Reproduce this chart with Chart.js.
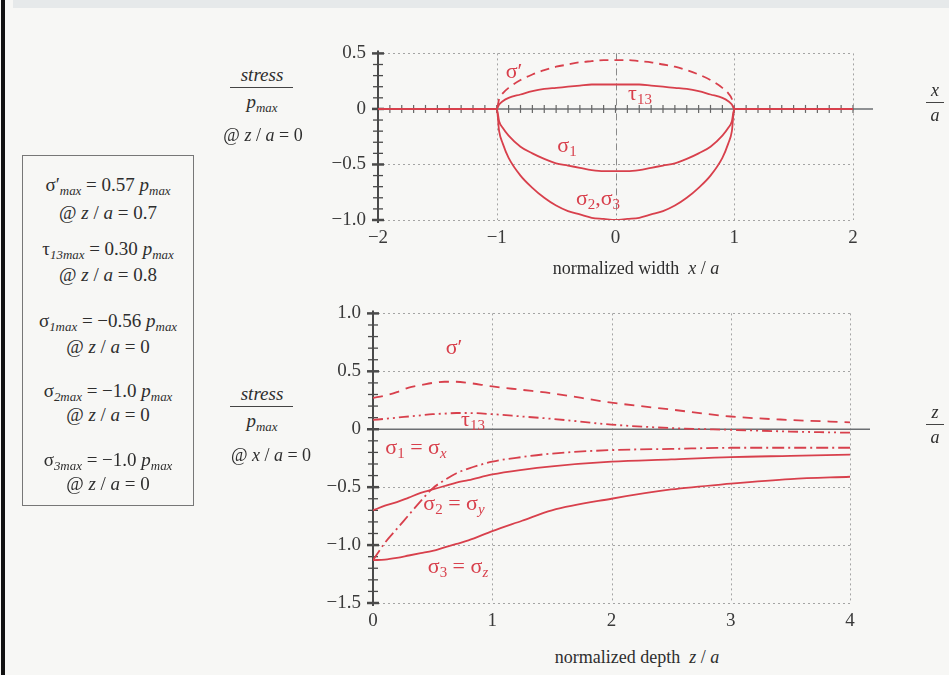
<!DOCTYPE html>
<html>
<head>
<meta charset="utf-8">
<script src="https://cdn.jsdelivr.net/npm/chart.js@4.4.1/dist/chart.umd.min.js"></script>
<style>
body{margin:0;width:949px;height:675px;background:#f7f7f5;position:relative;overflow:hidden;
  font-family:"Liberation Serif","DejaVu Serif",serif;color:#2e2e2e;}
.a{position:absolute;white-space:nowrap;transform:translate(-50%,-50%);line-height:1;}
.s{font-size:0.68em;font-style:italic;position:relative;top:0.3em;}
.n{font-size:0.68em;position:relative;top:0.3em;}
.red{color:#d8404c;font-size:22px;}
.bar{position:absolute;height:1.4px;background:#444;}
#box{position:absolute;left:22px;top:155px;width:170px;height:349px;border:1.5px solid #777;}
#box div{position:absolute;left:0;width:170px;text-align:center;font-size:19px;line-height:1;transform:translateY(-50%);}
canvas{position:absolute;}
</style>
</head>
<body>
<div style="position:absolute;left:1px;top:0;width:4px;height:675px;background:#111"></div>
<div style="position:absolute;left:13px;top:0;width:936px;height:8px;background:#e6e9ea"></div>

<canvas id="top" width="649" height="240" style="left:300px;top:30px"></canvas>
<canvas id="bottom" width="649" height="345" style="left:300px;top:290px"></canvas>

<!-- axis titles -->
<div class="a" style="left:636px;top:268px;font-size:18px">normalized width&nbsp;&nbsp;<i>x</i> / <i>a</i></div>
<div class="a" style="left:637px;top:657px;font-size:18px">normalized depth&nbsp;&nbsp;<i>z</i> / <i>a</i></div>

<!-- right fractions -->
<div class="a" style="left:935px;top:90px;font-size:18px"><i>x</i></div>
<div class="bar" style="left:926px;top:102px;width:18px"></div>
<div class="a" style="left:935px;top:115px;font-size:18px"><i>a</i></div>
<div class="a" style="left:935px;top:412px;font-size:18px"><i>z</i></div>
<div class="bar" style="left:926px;top:424px;width:18px"></div>
<div class="a" style="left:935px;top:437px;font-size:18px"><i>a</i></div>

<!-- left fractions -->
<div class="a" style="left:262px;top:74px;font-size:19px"><i>stress</i></div>
<div class="bar" style="left:230px;top:87px;width:63px"></div>
<div class="a" style="left:262px;top:101px;font-size:19px"><i>p<span class="n">max</span></i></div>
<div class="a" style="left:263px;top:135px;font-size:18px">@ <i>z</i> / <i>a</i> = 0</div>
<div class="a" style="left:262px;top:393px;font-size:19px"><i>stress</i></div>
<div class="bar" style="left:230px;top:406px;width:63px"></div>
<div class="a" style="left:262px;top:420px;font-size:19px"><i>p<span class="n">max</span></i></div>
<div class="a" style="left:271px;top:455px;font-size:18px">@ <i>x</i> / <i>a</i> = 0</div>

<!-- curve labels -->
<div class="a red" style="left:514px;top:71px">σ′</div>
<div class="a red" style="left:640px;top:93px">τ<span class="n">13</span></div>
<div class="a red" style="left:567px;top:145px">σ<span class="n">1</span></div>
<div class="a red" style="left:598px;top:198px">σ<span class="n">2</span>,σ<span class="n">3</span></div>
<div class="a red" style="left:454px;top:347px">σ′</div>
<div class="a red" style="left:473px;top:419px">τ<span class="n">13</span></div>
<div class="a red" style="left:416px;top:447px">σ<span class="n">1</span> = σ<span class="s">x</span></div>
<div class="a red" style="left:454px;top:503px">σ<span class="n">2</span> = σ<span class="s">y</span></div>
<div class="a red" style="left:458px;top:566px">σ<span class="n">3</span> = σ<span class="s">z</span></div>

<div id="box">
  <div style="top:28px">σ′<span class="s">max</span> = 0.57 <i>p</i><span class="s">max</span></div>
  <div style="top:56px">@ <i>z</i> / <i>a</i> = 0.7</div>
  <div style="top:92px">τ<span class="s">13max</span> = 0.30 <i>p</i><span class="s">max</span></div>
  <div style="top:118px">@ <i>z</i> / <i>a</i> = 0.8</div>
  <div style="top:164px">σ<span class="s">1max</span> = −0.56 <i>p</i><span class="s">max</span></div>
  <div style="top:190px">@ <i>z</i> / <i>a</i> = 0</div>
  <div style="top:234px">σ<span class="s">2max</span> = −1.0 <i>p</i><span class="s">max</span></div>
  <div style="top:258px">@ <i>z</i> / <i>a</i> = 0</div>
  <div style="top:303px">σ<span class="s">3max</span> = −1.0 <i>p</i><span class="s">max</span></div>
  <div style="top:327px">@ <i>z</i> / <i>a</i> = 0</div>
</div>

<script>
/* ---------- DATA: surface, along x/a ---------- */
const widthX = [-2, -1.5, -1, -0.98, -0.95, -0.9, -0.8, -0.7, -0.6, -0.5, -0.4, -0.3, -0.2, -0.1, 0,
  0.1, 0.2, 0.3, 0.4, 0.5, 0.6, 0.7, 0.8, 0.9, 0.95, 0.98, 1, 1.5, 2];
const vonMisesX = [0, 0, 0, 0.09, 0.14, 0.19, 0.26, 0.31, 0.35, 0.38, 0.40, 0.42, 0.43, 0.44, 0.44,
  0.44, 0.43, 0.42, 0.40, 0.38, 0.35, 0.31, 0.26, 0.19, 0.14, 0.09, 0, 0, 0];
const tau13X = [0, 0, 0, 0.04, 0.07, 0.10, 0.13, 0.16, 0.18, 0.19, 0.20, 0.21, 0.22, 0.22, 0.22,
  0.22, 0.22, 0.21, 0.20, 0.19, 0.18, 0.16, 0.13, 0.10, 0.07, 0.04, 0, 0, 0];
const sigma1X = [0, 0, 0, -0.11, -0.17, -0.24, -0.34, -0.40, -0.45, -0.49, -0.51, -0.53, -0.55, -0.56, -0.56,
  -0.56, -0.55, -0.53, -0.51, -0.49, -0.45, -0.40, -0.34, -0.24, -0.17, -0.11, 0, 0, 0];
const sigma23X = [0, 0, 0, -0.20, -0.31, -0.44, -0.60, -0.71, -0.80, -0.87, -0.92, -0.95, -0.98, -0.99, -1.00,
  -0.99, -0.98, -0.95, -0.92, -0.87, -0.80, -0.71, -0.60, -0.44, -0.31, -0.20, 0, 0, 0];

/* ---------- DATA: depth, along z/a ---------- */
const depthZ = [0, 0.1, 0.2, 0.3, 0.4, 0.5, 0.6, 0.7, 0.8, 1.0, 1.25, 1.5, 2, 2.5, 3, 3.5, 4];
const vonMisesZ = [0.27, 0.29, 0.32, 0.36, 0.38, 0.40, 0.41, 0.41, 0.40, 0.37, 0.34, 0.31, 0.23, 0.17, 0.11, 0.08, 0.06];
const tau13Z = [0.08, 0.09, 0.10, 0.11, 0.12, 0.13, 0.135, 0.14, 0.14, 0.13, 0.11, 0.09, 0.04, 0.01, -0.005, -0.02, -0.03];
const sigmaXZ = [-1.13, -0.98, -0.86, -0.74, -0.62, -0.51, -0.44, -0.38, -0.34, -0.28, -0.24, -0.21, -0.18, -0.17, -0.16, -0.16, -0.16];
const sigmaYZ = [-0.70, -0.66, -0.63, -0.59, -0.55, -0.52, -0.49, -0.46, -0.44, -0.39, -0.35, -0.32, -0.28, -0.26, -0.24, -0.23, -0.22];
const sigmaZZ = [-1.13, -1.125, -1.11, -1.09, -1.07, -1.05, -1.02, -0.99, -0.96, -0.88, -0.79, -0.70, -0.60, -0.52, -0.47, -0.43, -0.41];

/* ---------- TICK LABELS ---------- */
const topXLabels = ["−2", "−1", "0", "1", "2"];
const topYLabels = ["−1.0", "−0.5", "0", "0.5"];
const botXLabels = ["0", "1", "2", "3", "4"];
const botYLabels = ["−1.5", "−1.0", "−0.5", "0", "0.5", "1.0"];

const RED = "#d8404c";
const FONT = "'Liberation Serif', 'DejaVu Serif', serif";

function pts(xs, ys){ return xs.map((x,i)=>({x, y: ys[i]})); }

function ds(xs, ys, dash){
    return {data: pts(xs, ys), borderColor: RED, borderWidth: 1.8, borderDash: dash || [],
        pointRadius: 0, fill: false, cubicInterpolationMode: "monotone"};
}

/* ---------- AXES / GRID DECORATION ---------- */
const axesDeco = {
    id: "axesDeco",
    beforeDatasetsDraw(chart, args, o){
        const {ctx, chartArea: a, scales: {x, y}} = chart;
        const line = (x1,y1,x2,y2)=>{ ctx.beginPath(); ctx.moveTo(x1,y1); ctx.lineTo(x2,y2); ctx.stroke(); };
        ctx.save();

        ctx.strokeStyle = "#a4a4a4"; ctx.lineWidth = 1; ctx.setLineDash([2,3]);
        o.gridX.forEach(v=>{ const p = Math.round(x.getPixelForValue(v))+0.5; line(p, a.top, p, a.bottom); });
        o.gridY.forEach(v=>{ const p = Math.round(y.getPixelForValue(v))+0.5; line(a.left, p, a.right, p); });

        if(o.dashDotX !== undefined){
            ctx.strokeStyle = "#8a8a8a"; ctx.setLineDash([7,3,2,3]);
            const p = Math.round(x.getPixelForValue(o.dashDotX))+0.5;
            line(p, a.top, p, a.bottom);
        }
        ctx.setLineDash([]);

        // zero axis
        const y0 = y.getPixelForValue(0);
        ctx.strokeStyle = "#6c6f72"; ctx.lineWidth = 1.5;
        line(a.left, y0, a.right + 20, y0);
        if(o.minorX){
            ctx.lineWidth = 1.2; ctx.strokeStyle = "#666";
            const n = Math.round((x.max - x.min)/o.minorX);
            for(let i=0;i<=n;i++){
                const p = x.getPixelForValue(x.min + i*o.minorX);
                line(p, y0-4, p, y0+4);
            }
        }

        // y axis with minor ticks
        ctx.strokeStyle = "#4a4a4a"; ctx.lineWidth = 2;
        line(a.left, a.top-3, a.left, a.bottom+3);
        const n = Math.round((y.max - y.min)/0.1);
        for(let i=0;i<=n;i++){
            const v = y.min + i*0.1;
            const major = i % 5 === 0;
            const p = y.getPixelForValue(v);
            ctx.lineWidth = major ? 2.5 : 1.3;
            line(a.left-(major?6:5), p, a.left+(major?6:5), p);
        }
        ctx.restore();
    }
};

function makeChart(id, datasets, sc, pad, deco){
    return new Chart(document.getElementById(id), {
        type: "line",
        data: {datasets},
        plugins: [axesDeco],
        options: {
            responsive: false, animation: false,
            layout: {padding: pad},
            plugins: {legend: {display: false}, tooltip: {enabled: false}, axesDeco: deco},
            scales: {
                x: {type: "linear", min: sc.xmin, max: sc.xmax,
                    afterFit(s){ s.height = sc.xh; },
                    grid: {display: false, drawTicks: false}, border: {display: false},
                    ticks: {stepSize: 1, padding: 7, color: "#3a3a3a", font: {family: FONT, size: 19},
                        callback: (v, i)=>sc.xl[i]}},
                y: {min: sc.ymin, max: sc.ymax,
                    afterFit(s){ s.width = sc.yw; },
                    grid: {display: false, drawTicks: false}, border: {display: false},
                    ticks: {stepSize: 0.5, padding: 12, color: "#3a3a3a", font: {family: FONT, size: 19},
                        callback: (v, i)=>sc.yl[i]}}
            }
        }
    });
}

/* ---------- TOP: along width ---------- */
makeChart("top", [
    ds(widthX, vonMisesX, [9,6]),
    ds(widthX, tau13X),
    ds(widthX, sigma1X),
    ds(widthX, sigma23X)
], {xmin: -2, xmax: 2, ymin: -1, ymax: 0.5, xh: 50, yw: 78, xl: topXLabels, yl: topYLabels},
   {top: 14, right: 96, left: 0, bottom: 0},
   {gridX: [-1, 1, 2], gridY: [0.5, -0.5, -1], dashDotX: 0, minorX: 0.1});

/* ---------- BOTTOM: along depth ---------- */
makeChart("bottom", [
    ds(depthZ, vonMisesZ, [10,7]),
    ds(depthZ, tau13Z, [10,4,2,4,2,4]),
    ds(depthZ, sigmaXZ, [12,4,2,4]),
    ds(depthZ, sigmaYZ),
    ds(depthZ, sigmaZZ)
], {xmin: 0, xmax: 4, ymin: -1.5, ymax: 1, xh: 32, yw: 73, xl: botXLabels, yl: botYLabels},
   {top: 17, right: 99, left: 0, bottom: 0},
   {gridX: [1, 2, 3, 4], gridY: [1, 0.5, -0.5, -1, -1.5]});
</script>
</body>
</html>
